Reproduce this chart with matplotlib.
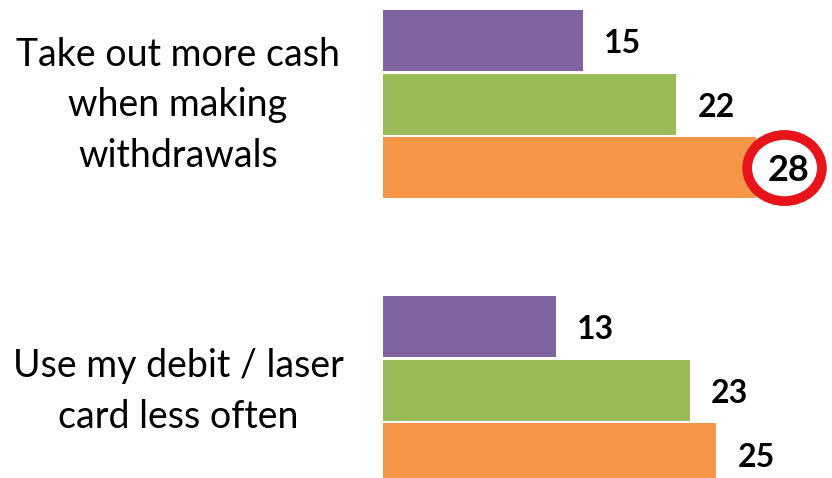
import matplotlib
matplotlib.use("Agg")
import matplotlib.pyplot as plt
import matplotlib.patheffects as pe
from matplotlib.patches import Ellipse
import matplotlib.transforms as mtransforms

# Survey answers, one group per statement, three waves each
categories = ["Take out more cash\nwhen making\nwithdrawals", "Use my debit / laser\ncard less often"]
wave1 = [15, 13]
wave2 = [22, 23]
wave3 = [28, 25]
highlight = (0, 2)  # (group, wave) that gets the red ring

colors = ["#8064A2", "#9BBB59", "#F79646"]
font = "Lato"

fig = plt.figure(figsize=(8.32, 4.78), dpi=100)
ax = fig.add_axes([0, 0, 1, 1])

groupStart = [0.0, 4.5]
barHeight = 0.96
series = [wave1, wave2, wave3]

for g, start in enumerate(groupStart):
    for w, values in enumerate(series):
        y = start + w
        v = values[g]
        ax.barh(y, v, height=barHeight, color=colors[w], edgecolor="none", zorder=2)
        if (g, w) == highlight:
            continue
        ax.text(v + 1.57, y + 0.05, str(v), ha="left", va="center",
                fontsize=23, fontweight="bold", family=font, zorder=5)

# Red ring around the highlighted value
g, w = highlight
v = series[w][g]
yh = groupStart[g] + w
ring = Ellipse((v + 2.1, yh + 0.005), width=5.6, height=1.04,
               facecolor="white", edgecolor="#E8141B", linewidth=7, zorder=4)
ring.set_path_effects([pe.SimplePatchShadow(offset=(2, -3), alpha=0.35), pe.Normal()])
ax.add_patch(ring)
ax.text(v + 2.43, yh + 0.04, str(v), ha="center", va="center",
        fontsize=26, fontweight="bold", family=font, zorder=5)

# Category labels, centred on the middle bar of each group
trans = mtransforms.blended_transform_factory(ax.transAxes, ax.transData)
for g, label in enumerate(categories):
    ax.text(0.214, groupStart[g] + 1.02, label, transform=trans, ha="center", va="center",
            multialignment="center", fontsize=27, family=font, linespacing=1.5)

ax.set_xlim(-28.71, 33.66)
ax.set_ylim(6.879, -0.637)
ax.axis("off")

fig.savefig("out.png", dpi=100)
